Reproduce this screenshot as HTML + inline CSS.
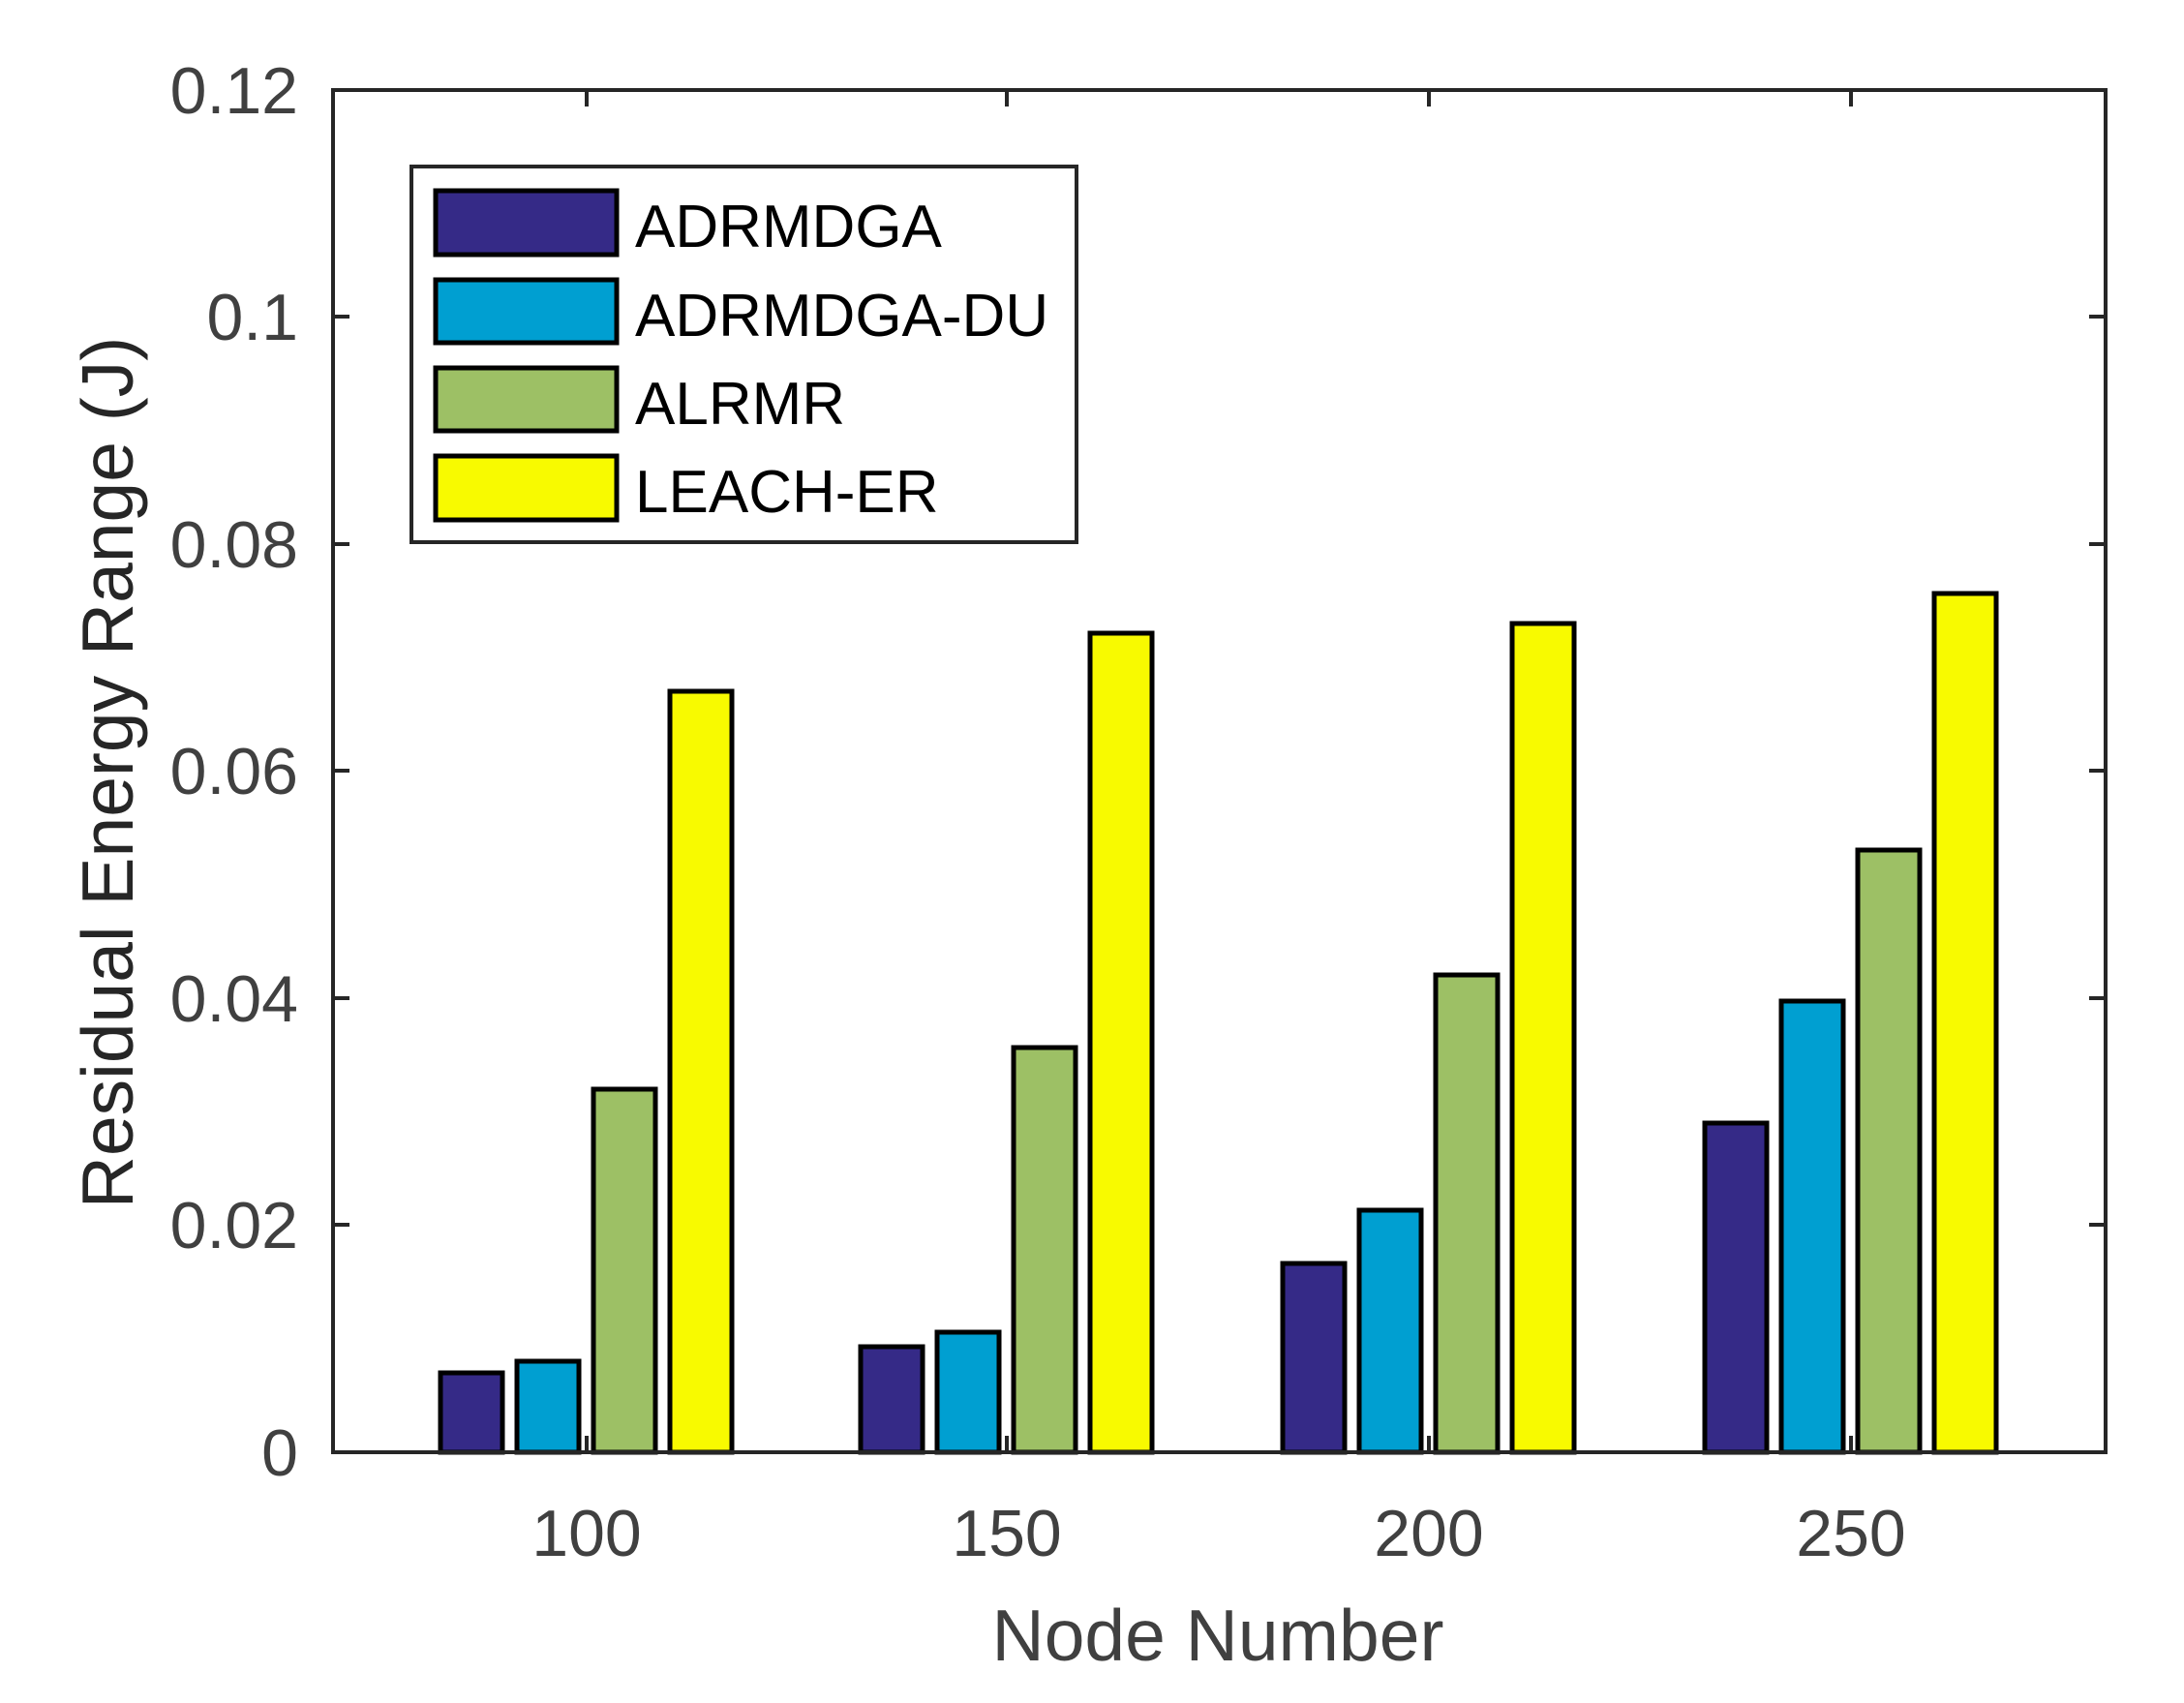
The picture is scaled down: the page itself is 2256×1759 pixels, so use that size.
<!DOCTYPE html>
<html><head><meta charset="utf-8"><style>
html,body{margin:0;padding:0;background:#fff;}
svg{display:block;}
text{font-family:"Liberation Sans",Arial,sans-serif;}
</style></head><body>
<svg width="2256" height="1759" viewBox="0 0 2256 1759" xmlns="http://www.w3.org/2000/svg">
<rect width="2256" height="1759" fill="#fff"/>
<g stroke="#000" stroke-width="5">
<rect x="455" y="1418" width="64" height="82" fill="#352a87"/>
<rect x="534" y="1406" width="64" height="94" fill="#009fd1"/>
<rect x="613" y="1125" width="64" height="375" fill="#9dc065"/>
<rect x="692" y="714" width="64" height="786" fill="#f8fa00"/>

<rect x="889" y="1391" width="64" height="109" fill="#352a87"/>
<rect x="968" y="1376" width="64" height="124" fill="#009fd1"/>
<rect x="1047" y="1082" width="64" height="418" fill="#9dc065"/>
<rect x="1126" y="654" width="64" height="846" fill="#f8fa00"/>

<rect x="1325" y="1305" width="64" height="195" fill="#352a87"/>
<rect x="1404" y="1250" width="64" height="250" fill="#009fd1"/>
<rect x="1483" y="1007" width="64" height="493" fill="#9dc065"/>
<rect x="1562" y="644" width="64" height="856" fill="#f8fa00"/>

<rect x="1761" y="1160" width="64" height="340" fill="#352a87"/>
<rect x="1840" y="1034" width="64" height="466" fill="#009fd1"/>
<rect x="1919" y="878" width="64" height="622" fill="#9dc065"/>
<rect x="1998" y="613" width="64" height="887" fill="#f8fa00"/>
</g>
<rect x="344" y="93" width="1831" height="1407" fill="none" stroke="#262626" stroke-width="4"/>
<g stroke="#262626" stroke-width="4">
<line x1="344" y1="1265" x2="361" y2="1265"/><line x1="2175" y1="1265" x2="2158" y2="1265"/>
<line x1="344" y1="1031" x2="361" y2="1031"/><line x1="2175" y1="1031" x2="2158" y2="1031"/>
<line x1="344" y1="796" x2="361" y2="796"/><line x1="2175" y1="796" x2="2158" y2="796"/>
<line x1="344" y1="562" x2="361" y2="562"/><line x1="2175" y1="562" x2="2158" y2="562"/>
<line x1="344" y1="327" x2="361" y2="327"/><line x1="2175" y1="327" x2="2158" y2="327"/>
<line x1="606" y1="93" x2="606" y2="110"/><line x1="606" y1="1500" x2="606" y2="1483"/>
<line x1="1040" y1="93" x2="1040" y2="110"/><line x1="1040" y1="1500" x2="1040" y2="1483"/>
<line x1="1476" y1="93" x2="1476" y2="110"/><line x1="1476" y1="1500" x2="1476" y2="1483"/>
<line x1="1912" y1="93" x2="1912" y2="110"/><line x1="1912" y1="1500" x2="1912" y2="1483"/>
</g>
<g fill="#404040" font-size="68" text-anchor="end">
<text x="308" y="1524">0</text>
<text x="308" y="1289">0.02</text>
<text x="308" y="1055">0.04</text>
<text x="308" y="820">0.06</text>
<text x="308" y="586">0.08</text>
<text x="308" y="351">0.1</text>
<text x="308" y="117">0.12</text>
</g>
<g fill="#404040" font-size="68" text-anchor="middle">
<text x="606" y="1607">100</text>
<text x="1040" y="1607">150</text>
<text x="1476" y="1607">200</text>
<text x="1912" y="1607">250</text>
</g>
<text x="1258" y="1715" fill="#404040" font-size="75" text-anchor="middle">Node Number</text>
<text transform="translate(137,798) rotate(-90)" fill="#262626" font-size="75" text-anchor="middle">Residual Energy Range (J)</text>
<rect x="425" y="172" width="687" height="388" fill="#fff" stroke="#262626" stroke-width="4"/>
<g stroke="#000" stroke-width="5">
<rect x="450" y="197" width="187" height="66" fill="#352a87"/>
<rect x="450" y="289" width="187" height="65" fill="#009fd1"/>
<rect x="450" y="380" width="187" height="65" fill="#9dc065"/>
<rect x="450" y="471" width="187" height="66" fill="#f8fa00"/>
</g>
<g fill="#000" font-size="62">
<text x="656" y="255">ADRMDGA</text>
<text x="656" y="347">ADRMDGA-DU</text>
<text x="656" y="438">ALRMR</text>
<text x="656" y="529">LEACH-ER</text>
</g>
</svg>
</body></html>
